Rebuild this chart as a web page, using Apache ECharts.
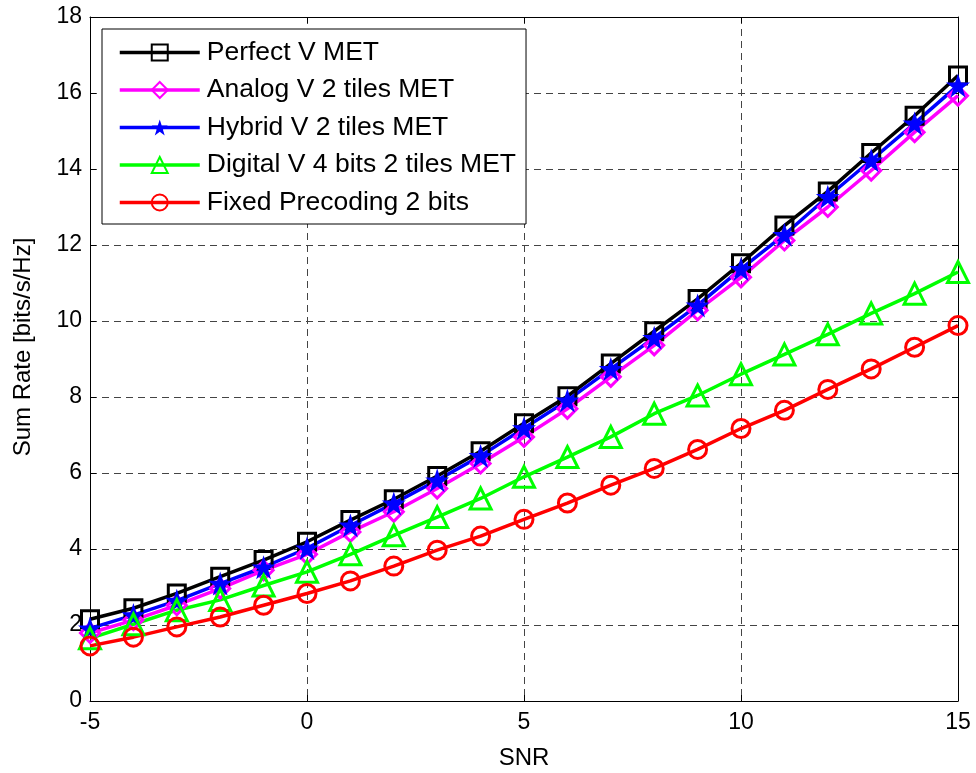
<!DOCTYPE html>
<html>
<head>
<meta charset="utf-8">
<script src="https://cdn.jsdelivr.net/npm/echarts@6/dist/echarts.min.js"></script>
<style>html,body{margin:0;padding:0;background:#fff}#c{width:976px;height:773px}</style>
</head>
<body>
<div id="c"></div>
<script>
const snr = [-5,-4,-3,-2,-1,0,1,2,3,4,5,6,7,8,9,10,11,12,13,14,15];
const perfect = [2.15,2.44,2.83,3.27,3.71,4.19,4.76,5.31,5.92,6.57,7.31,8.02,8.88,9.73,10.58,11.52,12.51,13.41,14.42,15.40,16.46];
const analog  = [1.79,2.13,2.52,2.96,3.44,3.86,4.45,4.98,5.59,6.25,6.95,7.69,8.53,9.36,10.28,11.15,12.12,13.00,13.96,14.97,15.93];
const hybrid  = [1.91,2.26,2.64,3.09,3.52,4.02,4.62,5.20,5.81,6.45,7.18,7.91,8.74,9.56,10.41,11.37,12.27,13.27,14.23,15.20,16.20];
const digital = [1.65,2.02,2.39,2.66,3.04,3.40,3.86,4.36,4.84,5.33,5.90,6.42,6.95,7.56,8.04,8.60,9.12,9.65,10.20,10.72,11.29];
const fixed   = [1.45,1.68,1.95,2.21,2.52,2.83,3.16,3.55,3.97,4.34,4.78,5.21,5.68,6.12,6.62,7.17,7.65,8.20,8.74,9.31,9.88];
const names = ['Perfect V MET','Analog V 2 tiles MET','Hybrid V 2 tiles MET','Digital V 4 bits 2 tiles MET','Fixed Precoding 2 bits'];
const xTicks = [-5,0,5,10,15];
const yTicks = [0,2,4,6,8,10,12,14,16,18];

const star = 'path://M50,0 L61.8,35.4 L99,35.4 L69,57.3 L80.4,92.7 L50,70.8 L19.6,92.7 L31,57.3 L1,35.4 L38.2,35.4 Z';
function pairs(v){ return snr.map((x,i)=>[x,v[i]]); }
function mk(name, data, color, symbol, size, filled){
  return {
    name, type:'line', data:pairs(data), symbol, symbolSize:size,
    lineStyle:{color, width:3.5},
    itemStyle:{color: filled ? color : 'rgba(0,0,0,0)', borderColor:color, borderWidth: filled?0:3},
    emphasis:{disabled:true}, animation:false, z:3
  };
}
const font = 'Liberation Sans, Arial, sans-serif';
const chart = echarts.init(document.getElementById('c'), null, {renderer:'canvas'});
chart.setOption({
  backgroundColor:'#fff',
  animation:false,
  grid:{left:90, right:18, top:17, bottom:72, show:false, containLabel:false, outerBoundsMode:'none'},
  legend:{
    show:true, orient:'vertical', left:102, top:29,
    data:names,
    itemWidth:80, itemHeight:20, itemGap:10.5,
    padding:[10,10,8,16],
    borderColor:'#000', borderWidth:1, backgroundColor:'#fff',
    lineStyle:{width:3.5},
    textStyle:{fontSize:26.5, lineHeight:26, color:'#000', fontFamily:font, padding:[0,0,0,2]},
    selectedMode:false
  },
  xAxis:[{
    type:'value', min:-5, max:15, interval:5,
    name:'SNR', nameLocation:'middle', nameGap:45,
    nameTextStyle:{fontSize:24, color:'#000', fontFamily:font},
    axisLine:{show:true, onZero:false, lineStyle:{color:'#000', width:1}},
    axisTick:{show:true, inside:true, length:6, lineStyle:{color:'#000'}},
    axisLabel:{fontSize:23, color:'#000', fontFamily:font, margin:10,
      formatter:v=>xTicks.includes(v)?String(v):''},
    splitLine:{show:true, lineStyle:{color:'#444', type:[7,5], width:1}}
  },{
    type:'value', min:-5, max:15, interval:5, position:'top',
    axisLine:{show:true, onZero:false, lineStyle:{color:'#000', width:1}},
    axisTick:{show:true, inside:true, length:6, lineStyle:{color:'#000'}},
    axisLabel:{show:false}, splitLine:{show:false}
  }],
  yAxis:[{
    type:'value', min:0, max:18, interval:2,
    name:'Sum Rate [bits/s/Hz]', nameLocation:'middle', nameGap:55,
    nameTextStyle:{fontSize:24, color:'#000', fontFamily:font, padding:[0,0,0,24]},
    axisLine:{show:true, onZero:false, lineStyle:{color:'#000', width:1}},
    axisTick:{show:true, inside:true, length:6, lineStyle:{color:'#000'}},
    axisLabel:{fontSize:23, color:'#000', fontFamily:font, margin:8,
      formatter:v=>yTicks.includes(v)?String(v):''},
    splitLine:{show:true, lineStyle:{color:'#444', type:[7,5], width:1}}
  },{
    type:'value', min:0, max:18, interval:2, position:'right',
    axisLine:{show:true, onZero:false, lineStyle:{color:'#000', width:1}},
    axisTick:{show:true, inside:true, length:6, lineStyle:{color:'#000'}},
    axisLabel:{show:false}, splitLine:{show:false}
  }],
  series:[
    mk(names[0], perfect, '#000000', 'rect', 17, false),
    mk(names[1], analog, '#ff00ff', 'diamond', 19, false),
    mk(names[2], hybrid, '#0000ff', star, 24, true),
    mk(names[3], digital, '#00ff00', 'triangle', 21, false),
    mk(names[4], fixed, '#ff0000', 'circle', 18, false)
  ]
});
</script>
</body>
</html>
